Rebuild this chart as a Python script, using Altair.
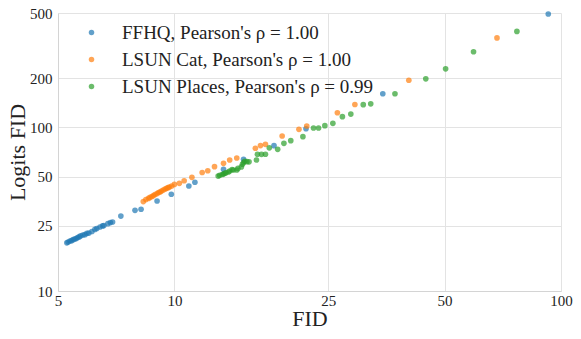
import altair as alt
import pandas as pd

ffhq_fid = [5.27, 5.31, 5.37, 5.42, 5.47, 5.52, 5.57, 5.62, 5.67, 5.72, 5.80, 5.87, 5.94, 6.01,
            6.12, 6.23, 6.30, 6.42, 6.52, 6.57, 6.73, 6.83, 6.92, 7.27, 7.91, 8.20, 9.02, 9.82,
            10.9, 11.3, 13.4, 15.1, 18.1, 21.9, 34.6, 92.7]
ffhq_logits = [19.7, 19.9, 20.2, 20.3, 20.6, 20.8, 20.9, 21.2, 21.4, 21.7, 22.0, 22.1, 22.5, 22.6,
               23.1, 23.8, 24.1, 24.6, 25.0, 25.1, 25.8, 26.2, 26.4, 28.7, 31.1, 31.6, 35.5, 39.0,
               43.8, 46.2, 55.4, 63.8, 77.3, 98.1, 160.6, 493]

cat_fid = [8.31, 8.44, 8.57, 8.65, 8.75, 8.83, 8.91, 9.02, 9.10, 9.18, 9.26, 9.36, 9.46, 9.55,
           9.63, 9.71, 9.84, 10.0, 10.3, 10.6, 11.1, 11.8, 12.2, 12.7, 13.4, 13.9, 14.5, 16.2,
           16.7, 17.2, 19.0, 21.0, 22.0, 26.4, 29.3, 40.4, 68.3]
cat_logits = [35.2, 36.2, 36.8, 37.3, 37.8, 38.3, 38.9, 39.4, 40.0, 40.3, 40.8, 41.4, 42.0, 42.4,
              42.8, 43.2, 43.8, 44.8, 45.5, 47.2, 49.5, 53.0, 54.3, 57.5, 60.3, 63.2, 65.0, 74.5,
              77.4, 78.8, 88.6, 97.3, 101.9, 122.9, 138, 194, 352]

places_fid = [12.98, 13.1, 13.3, 13.4, 13.5, 13.6, 13.8, 13.9, 14.1, 14.2, 14.5, 14.6, 14.9, 15.0,
              15.1, 15.2, 15.4, 15.6, 16.3, 16.4, 16.8, 17.2, 17.6, 18.5, 19.2, 20.0, 21.5, 22.9,
              23.6, 24.5, 25.7, 27.2, 28.6, 30.8, 32.2, 37.2, 44.7, 50.3, 59.4, 76.9]
places_logits = [50.4, 50.9, 51.5, 51.9, 52.4, 52.8, 53.4, 54.1, 55.3, 54.9, 54.9, 56.1, 57.3, 59.5,
                 61.0, 62.1, 61.7, 61.6, 63.2, 68.4, 68.4, 68.5, 75.0, 73.4, 79.9, 82.9, 87.7, 99.1,
                 99.1, 102.4, 105.9, 116.2, 120.6, 137.6, 139.3, 160.6, 198, 228, 290, 386]

series_names = ["FFHQ, Pearson's \u03c1 = 1.00",
                "LSUN Cat, Pearson's \u03c1 = 1.00",
                "LSUN Places, Pearson's \u03c1 = 0.99"]
colors = ["#1f77b4", "#ff7f0e", "#2ca02c"]

x_ticks = [5, 10, 25, 50, 100]
y_ticks = [10, 25, 50, 100, 200, 500]

rows = []
for name, xs, ys in zip(series_names,
                        [ffhq_fid, cat_fid, places_fid],
                        [ffhq_logits, cat_logits, places_logits]):
    for a, b in zip(xs, ys):
        rows.append({"series": name, "fid": a, "logits": b})
df = pd.DataFrame(rows)

FONT = "Liberation Serif"

chart = alt.Chart(df).mark_circle(size=32, opacity=0.7).encode(
    x=alt.X("fid:Q", title="FID",
            scale=alt.Scale(type="log", domain=[5, 100], nice=False),
            axis=alt.Axis(values=x_ticks, labelOverlap=False, ticks=False, tickSize=0,
                          labelPadding=2, titlePadding=0, labelFontSize=15, titleFontSize=22,
                          labelFlush=False)),
    y=alt.Y("logits:Q", title="Logits FID",
            scale=alt.Scale(type="log", domain=[10, 500], nice=False),
            axis=alt.Axis(values=y_ticks, labelOverlap=False, ticks=False, tickSize=0,
                          labelPadding=6, titlePadding=0, labelFontSize=15, titleFontSize=22,
                          labelFlush=False)),
    color=alt.Color("series:N",
                    scale=alt.Scale(domain=series_names, range=colors),
                    legend=alt.Legend(title=None, orient="none", legendX=24, legendY=10,
                                      labelFontSize=19, labelOffset=21, rowPadding=7,
                                      symbolSize=30, symbolOpacity=0.7, symbolType="circle",
                                      padding=0, labelLimit=400)),
    order=alt.Order("idx:Q"),
).transform_window(idx="row_number()").properties(
    width=503, height=278,
    autosize=alt.AutoSizeParams(type="none"),
    padding={"left": 50, "top": 5, "right": 12, "bottom": 40},
).configure_axis(
    labelFont=FONT, titleFont=FONT, labelColor="#222", titleColor="#222",
    gridColor="#e3e3e3", domainColor="#d4d4d4", titleFontWeight="normal",
).configure_legend(
    labelFont=FONT, labelColor="#222",
).configure_view(stroke=None)

chart.save("out.html", embed_options={"renderer": "svg", "actions": False})
